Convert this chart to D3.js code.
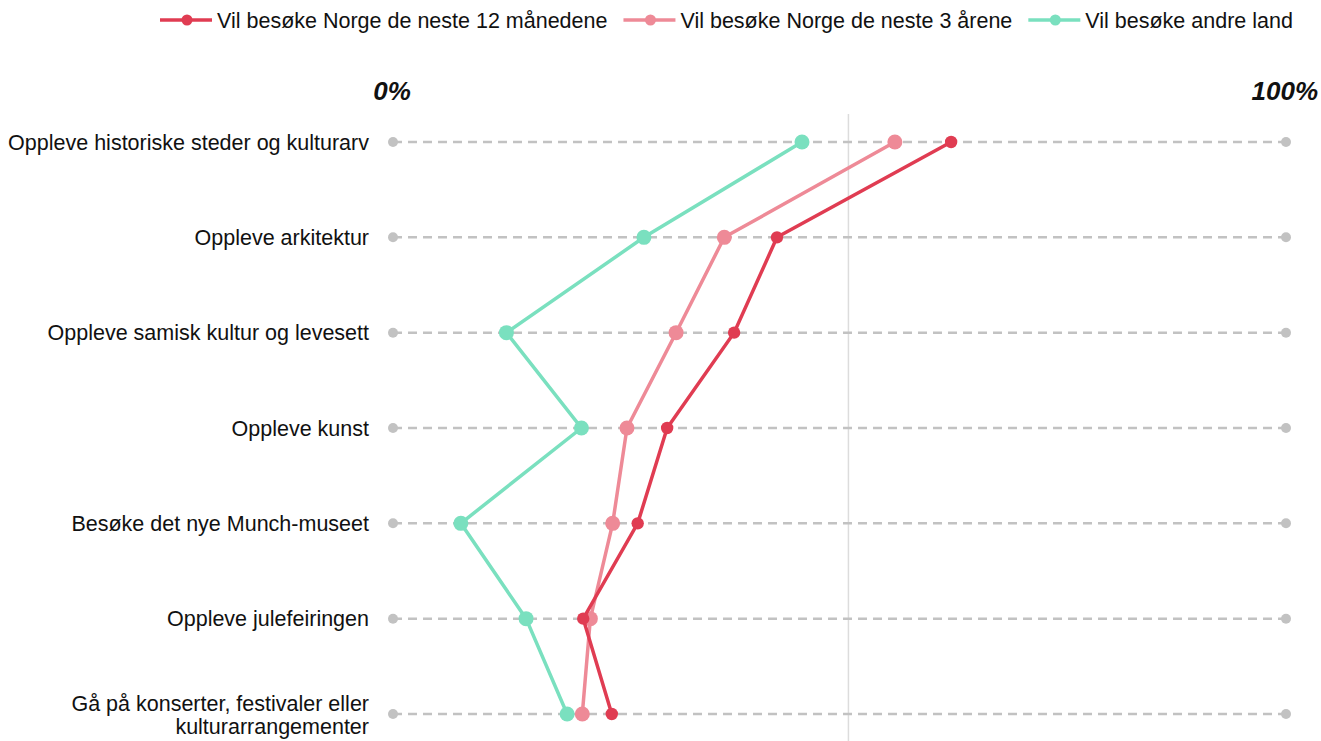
<!DOCTYPE html>
<html>
<head>
<meta charset="utf-8">
<script src="https://cdn.jsdelivr.net/npm/d3@7"></script>
<style>
  body { margin: 0; background: #fff; }
  svg text { font-family: "Liberation Sans", Arial, sans-serif; fill: #111; }
</style>
</head>
<body>
<svg id="chart" width="1321" height="741"></svg>
<script>
// categories (top to bottom)
var categories = [
  "Oppleve historiske steder og kulturarv",
  "Oppleve arkitektur",
  "Oppleve samisk kultur og levesett",
  "Oppleve kunst",
  "Besøke det nye Munch-museet",
  "Oppleve julefeiringen",
  "Gå på konserter, festivaler eller kulturarrangementer"
];
var seriesNames = ["Vil besøke Norge de neste 12 månedene", "Vil besøke Norge de neste 3 årene", "Vil besøke andre land"];
var next12 = [62.5, 43.0, 38.2, 30.7, 27.4, 21.3, 24.5];
var next3 = [56.2, 37.1, 31.7, 26.2, 24.6, 22.1, 21.2];
var otherCountries = [45.8, 28.1, 12.7, 21.1, 7.6, 14.9, 19.5];
var refValue = 51;

var colors = ["#e03c52", "#ee8a97", "#7ae0bf"];
var radius = [6.2, 7.5, 7.5];
var allSeries = [next12, next3, otherCountries];

var svg = d3.select("#chart");
var x = d3.scaleLinear().domain([0, 100]).range([393, 1286]);
var y = d3.scalePoint().domain(categories).range([142, 714]);

// reference line
svg.append("line")
  .attr("x1", x(refValue)).attr("x2", x(refValue))
  .attr("y1", 114).attr("y2", 741)
  .attr("stroke", "#dcdcdc").attr("stroke-width", 1.5);

// dashed row lines
var rows = svg.append("g");
categories.forEach(function (c) {
  rows.append("line")
    .attr("x1", x(0)).attr("x2", x(100))
    .attr("y1", y(c)).attr("y2", y(c))
    .attr("stroke", "#c2c2c2").attr("stroke-width", 2.5)
    .attr("stroke-dasharray", "9,6");
  [0, 100].forEach(function (v) {
    rows.append("circle").attr("cx", x(v)).attr("cy", y(c)).attr("r", 5).attr("fill", "#c2c2c2");
  });
});

// category labels
categories.forEach(function (c, i) {
  var t = svg.append("text")
    .attr("x", 369).attr("y", y(c))
    .attr("text-anchor", "end")
    .style("font-size", "21.5px");
  if (i == categories.length - 1) {
    t.append("tspan").attr("x", 369).attr("dy", "-0.15em").text("Gå på konserter, festivaler eller");
    t.append("tspan").attr("x", 369).attr("dy", "1.1em").text("kulturarrangementer");
  } else {
    t.attr("dy", "0.35em").text(c);
  }
});

// axis end labels
svg.append("text").attr("x", 392).attr("y", 100).attr("text-anchor", "middle")
  .style("font-size", "26px").style("font-weight", "bold").style("font-style", "italic").text("0%");
svg.append("text").attr("x", 1318).attr("y", 100).attr("text-anchor", "end")
  .style("font-size", "26px").style("font-weight", "bold").style("font-style", "italic").text("100%");

// series lines + markers
var line = d3.line()
  .x(function (d) { return x(d.v); })
  .y(function (d) { return y(d.c); });

for (var s = 2; s >= 0; s--) {
  var pts = allSeries[s].map(function (v, i) { return { c: categories[i], v: v }; });
  svg.append("path").datum(pts)
    .attr("d", line)
    .attr("fill", "none")
    .attr("stroke", colors[s])
    .attr("stroke-width", 3.5);
  svg.append("g").selectAll("circle").data(pts).enter().append("circle")
    .attr("cx", function (d) { return x(d.v); })
    .attr("cy", function (d) { return y(d.c); })
    .attr("r", radius[s])
    .attr("fill", colors[s]);
}

// legend
var lx = 160;
seriesNames.forEach(function (name, i) {
  var g = svg.append("g");
  g.append("line").attr("x1", lx).attr("x2", lx + 52).attr("y1", 20).attr("y2", 20)
    .attr("stroke", colors[i]).attr("stroke-width", 3.5);
  g.append("circle").attr("cx", lx + 27).attr("cy", 20).attr("r", 5.5).attr("fill", colors[i]);
  var t = g.append("text").attr("x", lx + 57).attr("y", 20).attr("dy", "0.35em")
    .style("font-size", "21.5px").text(name);
  lx = lx + 57 + t.node().getComputedTextLength() + 16;
});
</script>
</body>
</html>
